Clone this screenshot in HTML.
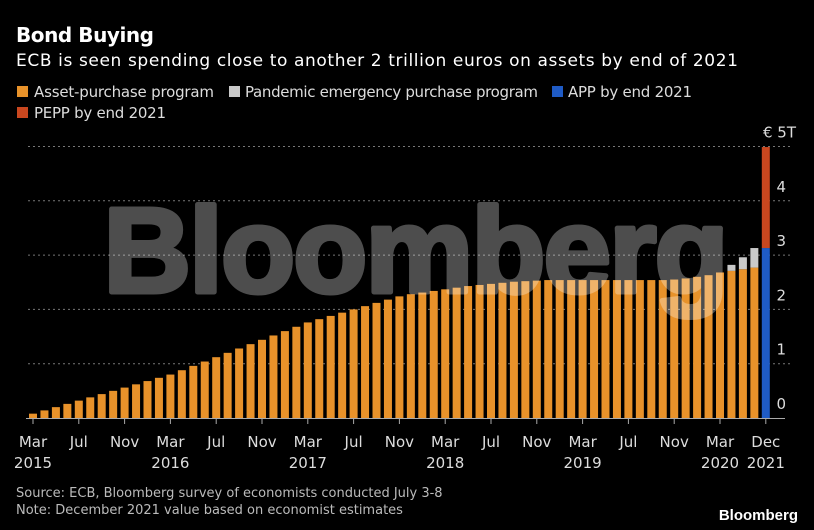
<!DOCTYPE html>
<html><head><meta charset="utf-8"><style>
html,body{margin:0;padding:0;background:#000;width:814px;height:530px;overflow:hidden}
svg{display:block}
text{font-family:"DejaVu Sans","Liberation Sans",sans-serif}
</style></head><body>
<svg id="chart" width="814" height="530" viewBox="0 0 814 530">
<text x="16" y="42" fill="#fff" font-size="20" font-weight="bold" textLength="138">Bond Buying</text>
<text x="16" y="66" fill="#fff" font-size="17" textLength="722">ECB is seen spending close to another 2 trillion euros on assets by end of 2021</text>
<g>
<g><rect x="17" y="86" width="11" height="11" fill="#e8922a"/><text x="34" y="97" fill="#ddd" font-size="15" textLength="180">Asset-purchase program</text></g>
<g><rect x="229" y="86" width="11" height="11" fill="#c9c9c9"/><text x="245" y="97" fill="#ddd" font-size="15" textLength="293">Pandemic emergency purchase program</text></g>
<g><rect x="552" y="86" width="11" height="11" fill="#1f5bc5"/><text x="568" y="97" fill="#ddd" font-size="15" textLength="124">APP by end 2021</text></g>
<g><rect x="17" y="107" width="11" height="11" fill="#c9471f"/><text x="34" y="118" fill="#ddd" font-size="15" textLength="132">PEPP by end 2021</text></g>
</g>
<g id="grid"></g>
<g id="bars"></g>
<g opacity="0.3">
<text x="416" y="292" fill="#fff" stroke="#fff" stroke-width="5" stroke-linejoin="round" font-size="121" font-weight="bold" text-anchor="middle" textLength="625" style="font-family:'Liberation Sans',sans-serif">Bloomberg</text>
</g>
<g id="xaxis"></g>
<text x="16" y="497" fill="#bbb" font-size="13">Source: ECB, Bloomberg survey of economists conducted July 3-8</text>
<text x="16" y="514" fill="#bbb" font-size="13">Note: December 2021 value based on economist estimates</text>
<text x="798" y="520" fill="#fff" font-size="15" font-weight="bold" text-anchor="end" style="font-family:'Liberation Sans',sans-serif">Bloomberg</text>
</svg>
<script>
const appValues = [0.08,0.14,0.20,0.26,0.32,0.38,0.44,0.50,0.56,0.62,
0.68,0.74,0.80,0.88,0.96,1.04,1.12,1.20,1.28,1.36,1.44,1.52,
1.60,1.68,1.76,1.82,1.88,1.94,2.00,2.06,2.12,2.18,2.24,2.28,
2.31,2.34,2.37,2.40,2.43,2.45,2.47,2.49,2.51,2.52,2.53,2.54,
2.54,2.54,2.54,2.54,2.54,2.54,2.54,2.54,2.54,2.54,2.55,2.57,
2.60,2.63,2.68,2.71,2.74,2.77];
const peppValues = [0,0,0,0,0,0,0,0,0,0,0,0,0,0,0,0,0,0,0,0,0,0,0,0,0,0,0,0,0,0,0,0,0,0,0,0,0,0,0,0,0,0,0,0,0,0,0,0,0,0,0,0,0,0,0,0,0,0,0,0,0,0.11,0.22,0.36];
const dec2021App = 3.13;
const dec2021Pepp = 1.86;
const yTicks = [0,1,2,3,4,5];
const xTickLabels = ["Mar","Jul","Nov","Mar","Jul","Nov","Mar","Jul","Nov","Mar","Jul","Nov","Mar","Jul","Nov","Mar"];
const xYearLabels = {0:"2015",3:"2016",6:"2017",9:"2018",12:"2019",15:"2020"};

const NS="http://www.w3.org/2000/svg";
const y0=418, unit=54.3, x0=33, step=11.45, bw=8;
const ys=v=>y0-v*unit;
const xs=i=>x0+i*step;
function mk(tag,attrs,parent){const e=document.createElementNS(NS,tag);for(const k in attrs)e.setAttribute(k,attrs[k]);parent.appendChild(e);return e;}
const grid=document.getElementById('grid'), bars=document.getElementById('bars'), xa=document.getElementById('xaxis');
yTicks.forEach(t=>{
  if(t>0){const l=mk('line',{x1:28,x2:792,y1:ys(t),y2:ys(t),stroke:'#777','stroke-dasharray':'2,3','stroke-width':1},grid);
  
  }
  const tx=mk('text',{x:t===5?796:786,y:ys(t)-9,fill:'#ddd','font-size':15,'text-anchor':'end'},grid);
  tx.textContent=t===5?'€ 5T':String(t);
  
  
});
appValues.forEach((v,i)=>{
  const r=mk('rect',{x:xs(i)-bw/2,y:ys(v),width:bw,height:v*unit,fill:'#e8922a'},bars);
  
  
  const p=peppValues[i];
  if(p>0){const g=mk('rect',{x:xs(i)-bw/2,y:ys(v+p),width:bw,height:p*unit,fill:'#c9c9c9'},bars);
  
  }
});
const di=appValues.length;
const b=mk('rect',{x:xs(di)-bw/2,y:ys(dec2021App),width:bw,height:dec2021App*unit,fill:'#1f5bc5'},bars);


const rr=mk('rect',{x:xs(di)-bw/2,y:ys(dec2021App+dec2021Pepp),width:bw,height:dec2021Pepp*unit,fill:'#c9471f'},bars);


const ax=mk('line',{x1:26,x2:785,y1:y0+0.5,y2:y0+0.5,stroke:'#aaa','stroke-width':1},xa);


function tick(x,lab,yr,name){
  mk('line',{x1:x,x2:x,y1:y0,y2:y0+6,stroke:'#aaa'},xa);
  const t=mk('text',{x:x,y:447,fill:'#ddd','font-size':15,'text-anchor':'middle'},xa);
  t.textContent=lab;
  
  
  if(yr){const t2=mk('text',{x:x,y:468,fill:'#ddd','font-size':15,'text-anchor':'middle'},xa);
  t2.textContent=yr;
  
  }
}
xTickLabels.forEach((l,k)=>tick(xs(k*4),l,xYearLabels[k],'x-tick-label'));
tick(xs(di),'Dec','2021','x-tick-label-dec-2021');
</script>
</body></html>
